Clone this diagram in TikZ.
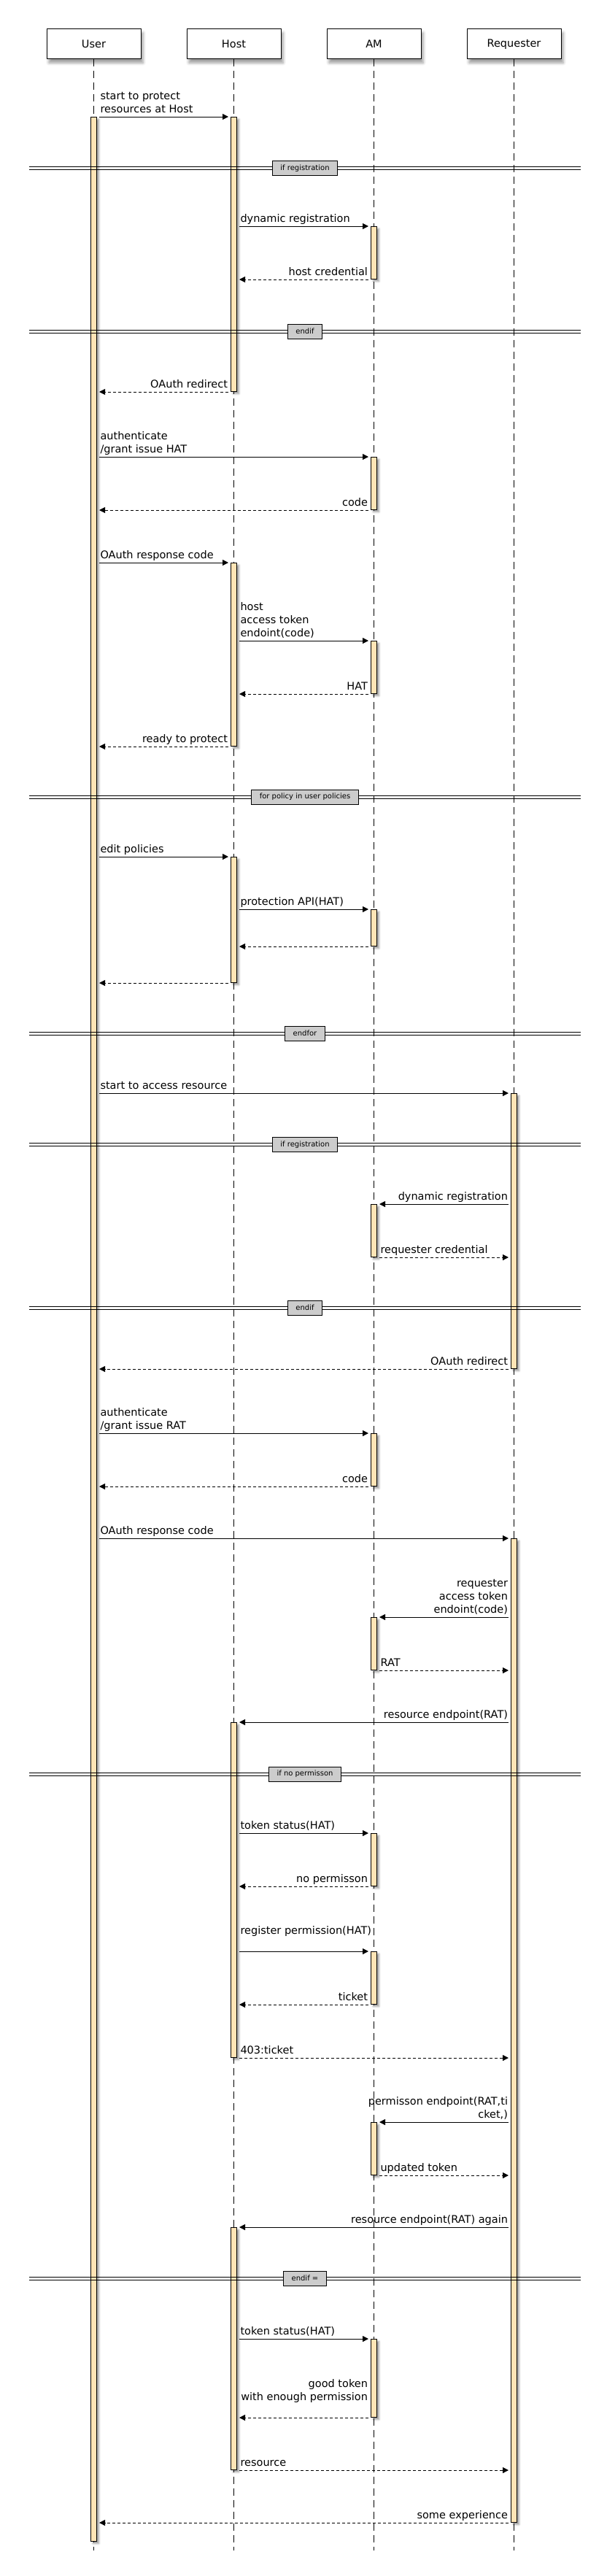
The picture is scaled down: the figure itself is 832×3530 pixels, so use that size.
\documentclass[tikz,border=0pt]{standalone}
\usepackage{fontspec}
\setmainfont{DejaVu Sans}
\usetikzlibrary{arrows.meta,shadows.blur}
\definecolor{actfill}{RGB}{255,228,181}

\begin{document}
\begin{tikzpicture}[x=1pt,y=-1pt]
\useasboundingbox (0,0) rectangle (832,3530);

\def\userx{128.5}
\def\hostx{320.5}
\def\amx{512.5}
\def\reqx{704.5}
\def\lineend{3495}

\tikzstyle{actor}=[rectangle,draw,line width=1pt,fill=white,minimum width=129pt,minimum height=41pt,inner sep=0pt,font=\fontsize{14.5}{18}\selectfont,blur shadow={shadow xshift=3pt,shadow yshift=-5pt,shadow blur radius=4pt}]
\tikzstyle{lifeline}=[line width=1pt,dash pattern=on 10pt off 6pt]
\tikzstyle{act}=[rectangle,draw,line width=1pt,fill=actfill,minimum width=8pt,inner sep=0pt,anchor=north,blur shadow={shadow xshift=3pt,shadow yshift=-3pt,shadow blur radius=2.5pt}]
\tikzstyle{call}=[line width=1pt,-{Triangle[length=8pt,width=8pt]},shorten <=3pt,shorten >=3pt]
\tikzstyle{reply}=[call,dash pattern=on 4pt off 3pt]
\tikzstyle{lbl}=[inner sep=0pt,text depth=0pt,font=\fontsize{14.5}{18}\selectfont]
\tikzstyle{lbll}=[lbl,anchor=south west,align=left,xshift=4pt,yshift=5pt]
\tikzstyle{lblr}=[lbl,anchor=south east,align=right,xshift=-3.5pt,yshift=5pt]
\tikzstyle{grpline}=[line width=1pt]
\tikzstyle{grp}=[rectangle,draw,line width=1pt,fill=black!20,minimum height=20pt,inner xsep=11pt,inner ysep=0pt,font=\fontsize{10}{12}\selectfont]

%Participants
\node[actor] (user) at (\userx,60.5) {User};
\node[actor] (host) at (\hostx,60.5) {Host};
\node[actor] (am) at (\amx,60.5) {AM};
\node[actor] (req) at (\reqx,60.5) {Requester};

\coordinate (userEnd) at (\userx,\lineend);
\coordinate (hostEnd) at (\hostx,\lineend);
\coordinate (amEnd) at (\amx,\lineend);
\coordinate (reqEnd) at (\reqx,\lineend);

\draw[lifeline] (user) -- (userEnd);
\draw[lifeline] (host) -- (hostEnd);
\draw[lifeline] (am) -- (amEnd);
\draw[lifeline] (req) -- (reqEnd);

%Activations
\node[act,minimum height=3322pt] (user1) at (\userx,160) {};

\node[act,minimum height=376pt] (host1) at (\hostx,160) {};
\node[act,minimum height=251pt] (host2) at (\hostx,771) {};
\node[act,minimum height=172pt] (host3) at (\hostx,1174) {};
\node[act,minimum height=459pt] (host4) at (\hostx,2360) {};
\node[act,minimum height=332pt] (host5) at (\hostx,3052) {};

\node[act,minimum height=72pt] (am1) at (\amx,310) {};
\node[act,minimum height=72pt] (am2) at (\amx,626) {};
\node[act,minimum height=72pt] (am3) at (\amx,878) {};
\node[act,minimum height=50pt] (am4) at (\amx,1246) {};
\node[act,minimum height=72pt] (am5) at (\amx,1650) {};
\node[act,minimum height=72pt] (am6) at (\amx,1964) {};
\node[act,minimum height=72pt] (am7) at (\amx,2216) {};
\node[act,minimum height=72pt] (am8) at (\amx,2512) {};
\node[act,minimum height=72pt] (am9) at (\amx,2674) {};
\node[act,minimum height=72pt] (am10) at (\amx,2908) {};
\node[act,minimum height=107pt] (am11) at (\amx,3205) {};

\node[act,minimum height=377pt] (req1) at (\reqx,1498) {};
\node[act,minimum height=1348pt] (req2) at (\reqx,2108) {};

%Host protection
\draw[call] (user1.east |- host1.north) -- (host1.north west) node[lbll,pos=0] {start to protect\\resources at Host};
\draw[call] (host1.east |- am1.north) -- (am1.north west) node[lbll,pos=0] {dynamic registration};
\draw[reply] (am1.south west) -- (host1.east |- am1.south) node[lblr,pos=0] {host credential};
\draw[reply] (host1.south west) -- (user1.east |- host1.south) node[lblr,pos=0] {OAuth redirect};
\draw[call] (user1.east |- am2.north) -- (am2.north west) node[lbll,pos=0] {authenticate\\/grant issue HAT};
\draw[reply] (am2.south west) -- (user1.east |- am2.south) node[lblr,pos=0] {code};
\draw[call] (user1.east |- host2.north) -- (host2.north west) node[lbll,pos=0] {OAuth response code};
\draw[call] (host2.east |- am3.north) -- (am3.north west) node[lbll,pos=0] {host\\access token\\endoint(code)};
\draw[reply] (am3.south west) -- (host2.east |- am3.south) node[lblr,pos=0] {HAT};
\draw[reply] (host2.south west) -- (user1.east |- host2.south) node[lblr,pos=0] {ready to protect};

%Policies
\draw[call] (user1.east |- host3.north) -- (host3.north west) node[lbll,pos=0] {edit policies};
\draw[call] (host3.east |- am4.north) -- (am4.north west) node[lbll,pos=0] {protection API(HAT)};
\draw[reply] (am4.south west) -- (host3.east |- am4.south);
\draw[reply] (host3.south west) -- (user1.east |- host3.south);

%Requester access
\draw[call] (user1.east |- req1.north) -- (req1.north west) node[lbll,pos=0] {start to access resource};
\draw[call] (req1.west |- am5.north) -- (am5.north east) node[lblr,pos=0] {dynamic registration};
\draw[reply] (am5.south east) -- (req1.west |- am5.south) node[lbll,pos=0] {requester credential};
\draw[reply] (req1.south west) -- (user1.east |- req1.south) node[lblr,pos=0] {OAuth redirect};
\draw[call] (user1.east |- am6.north) -- (am6.north west) node[lbll,pos=0] {authenticate\\/grant issue RAT};
\draw[reply] (am6.south west) -- (user1.east |- am6.south) node[lblr,pos=0] {code};
\draw[call] (user1.east |- req2.north) -- (req2.north west) node[lbll,pos=0] {OAuth response code};
\draw[call] (req2.west |- am7.north) -- (am7.north east) node[lblr,pos=0] {requester\\access token\\endoint(code)};
\draw[reply] (am7.south east) -- (req2.west |- am7.south) node[lbll,pos=0] {RAT};
\draw[call] (req2.west |- host4.north) -- (host4.north east) node[lblr,pos=0] {resource endpoint(RAT)};

%Permission
\draw[call] (host4.east |- am8.north) -- (am8.north west) node[lbll,pos=0] {token status(HAT)};
\draw[reply] (am8.south west) -- (host4.east |- am8.south) node[lblr,pos=0] {no permisson};
\draw[call] (host4.east |- am9.north) -- (am9.north west) node[lbll,pos=0,yshift=18pt] {register permission(HAT)};
\draw[reply] (am9.south west) -- (host4.east |- am9.south) node[lblr,pos=0] {ticket};
\draw[reply] (host4.south east) -- (req2.west |- host4.south) node[lbll,pos=0] {403:ticket};
\draw[call] (req2.west |- am10.north) -- (am10.north east) node[lblr,pos=0] {permisson endpoint(RAT,ti\\cket,)};
\draw[reply] (am10.south east) -- (req2.west |- am10.south) node[lbll,pos=0] {updated token};
\draw[call] (req2.west |- host5.north) -- (host5.north east) node[lblr,pos=0] {resource endpoint(RAT) again};
\draw[call] (host5.east |- am11.north) -- (am11.north west) node[lbll,pos=0] {token status(HAT)};
\draw[reply] (am11.south west) -- (host5.east |- am11.south) node[lblr,pos=0,yshift=18pt] {good token\\with enough permission};
\draw[reply] (host5.south east) -- (req2.west |- host5.south) node[lbll,pos=0] {resource};
\draw[reply] (req2.south west) -- (user1.east |- req2.south) node[lblr,pos=0] {some experience};

%Groups
\draw[grpline] (40,228.5) -- (796,228.5) (40,232.5) -- (796,232.5);
\node[grp] (grp1) at (418,230.5) {if registration};
\draw[grpline] (40,452) -- (796,452) (40,456) -- (796,456);
\node[grp] (grp2) at (418,454) {endif};
\draw[grpline] (40,1090) -- (796,1090) (40,1094) -- (796,1094);
\node[grp] (grp3) at (418,1092) {for policy in user policies};
\draw[grpline] (40,1414) -- (796,1414) (40,1418) -- (796,1418);
\node[grp] (grp4) at (418,1416) {endfor};
\draw[grpline] (40,1566.5) -- (796,1566.5) (40,1570.5) -- (796,1570.5);
\node[grp] (grp5) at (418,1568.5) {if registration};
\draw[grpline] (40,1790) -- (796,1790) (40,1794) -- (796,1794);
\node[grp] (grp6) at (418,1792) {endif};
\draw[grpline] (40,2429) -- (796,2429) (40,2433) -- (796,2433);
\node[grp] (grp7) at (418,2431) {if no permisson};
\draw[grpline] (40,3120) -- (796,3120) (40,3124) -- (796,3124);
\node[grp] (grp8) at (418,3122) {endif =};

\end{tikzpicture}
\end{document}
